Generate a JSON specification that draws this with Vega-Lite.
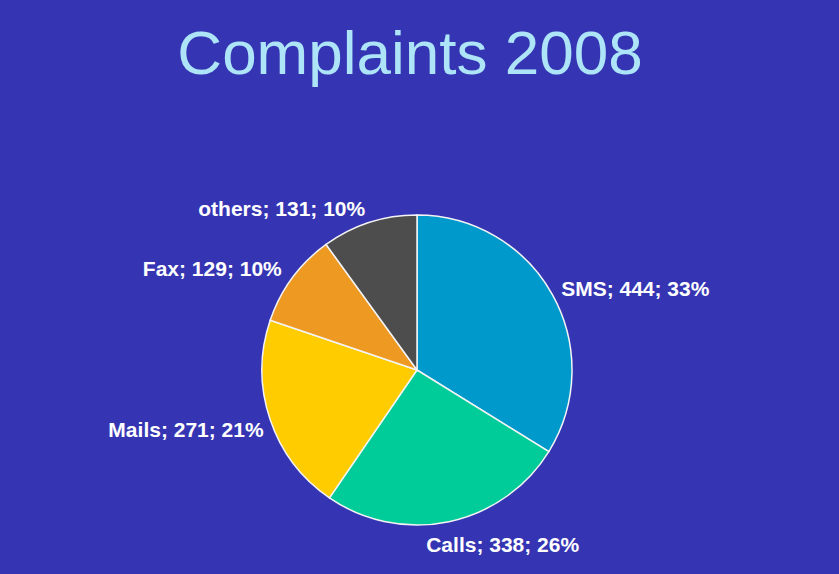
{
  "$schema": "https://vega.github.io/schema/vega-lite/v6.json",
  "autosize": {"type": "none"},
  "width": 814,
  "height": 408,
  "padding": {"left": 10, "top": 166, "right": 15, "bottom": 0},
  "background": "#3535b3",
  "view": {"stroke": null},
  "title": {
    "text": "Complaints 2008",
    "font": "Liberation Sans",
    "fontSize": 62,
    "fontWeight": "normal",
    "color": "#ade4f7",
    "offset": 30,
    "baseline": "alphabetic",
    "anchor": "middle",
    "dx": -7
  },
  "data": {
    "values": [
      {"category": "SMS", "count": 444, "order": 1, "label": "SMS; 444; 33%"},
      {"category": "Calls", "count": 338, "order": 2, "label": "Calls; 338; 26%"},
      {"category": "Mails", "count": 271, "order": 3, "label": "Mails; 271; 21%"},
      {"category": "Fax", "count": 129, "order": 4, "label": "Fax; 129; 10%"},
      {"category": "others", "count": 131, "order": 5, "label": "others; 131; 10%"}
    ]
  },
  "encoding": {
    "theta": {"field": "count", "type": "quantitative", "stack": true},
    "order": {"field": "order", "type": "quantitative", "sort": "ascending"}
  },
  "layer": [
    {
      "mark": {"type": "arc", "outerRadius": 155, "stroke": "#f4f4f4", "strokeWidth": 1.5},
      "encoding": {
        "color": {
          "field": "category",
          "type": "nominal",
          "scale": {
            "domain": ["SMS", "Calls", "Mails", "Fax", "others"],
            "range": ["#0099cc", "#00cc99", "#ffcc00", "#ee9922", "#4d4d4d"]
          },
          "legend": null
        }
      }
    },
    {
      "mark": {"type": "text", "radius": 165, "align": "left", "baseline": "middle", "font": "Liberation Sans", "fontSize": 21, "fontWeight": "bold", "color": "white"},
      "encoding": {
        "text": {"condition": {"test": "datum.category === 'SMS'", "field": "label"}, "value": ""}
      }
    },
    {
      "mark": {"type": "text", "radius": 180, "align": "left", "baseline": "middle", "dx": -28, "font": "Liberation Sans", "fontSize": 21, "fontWeight": "bold", "color": "white"},
      "encoding": {
        "text": {"condition": {"test": "datum.category === 'Calls'", "field": "label"}, "value": ""}
      }
    },
    {
      "mark": {"type": "text", "radius": 168, "align": "right", "baseline": "middle", "dy": 8, "dx": 6, "font": "Liberation Sans", "fontSize": 21, "fontWeight": "bold", "color": "white"},
      "encoding": {
        "text": {"condition": {"test": "datum.category === 'Mails'", "field": "label"}, "value": ""}
      }
    },
    {
      "mark": {"type": "text", "radius": 168, "align": "right", "baseline": "middle", "font": "Liberation Sans", "fontSize": 21, "fontWeight": "bold", "color": "white"},
      "encoding": {
        "text": {"condition": {"test": "datum.category === 'Fax' || datum.category === 'others'", "field": "label"}, "value": ""}
      }
    }
  ]
}
